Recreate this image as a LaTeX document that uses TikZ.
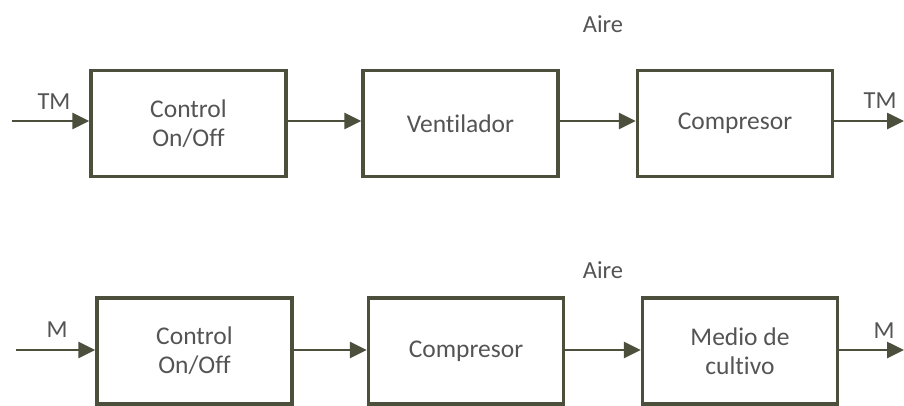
\documentclass[tikz,border=0pt]{standalone}
\usepackage{fontspec}
\setmainfont{Carlito}[Ligatures=NoCommon]
\usetikzlibrary{arrows.meta}
\definecolor{edge}{HTML}{4B4F3C}
\definecolor{txt}{HTML}{545454}
\tikzset{
  blockbox/.style={draw=edge, line width=3.4pt, minimum width=195pt, minimum height=106pt, inner sep=0pt, align=center, text=txt, font=\fontsize{25.5}{29}\selectfont},
  flow/.style={draw=edge, line width=2.6pt, -{Triangle[length=17pt,width=16pt]}},
  lbl/.style={text=txt, font=\fontsize{24.5}{28}\selectfont, inner sep=0pt}
}
\begin{document}
\begin{tikzpicture}[x=1pt,y=-1pt]
\useasboundingbox (0,0) rectangle (904,405);
% top row
\node[blockbox] (c1) at (188.5,123.5) {Control\\On/Off};
\node[blockbox] (v1) at (460.5,123.5) {Ventilador};
\node[blockbox] (p1) at (735,123.5) {Compresor};
\coordinate (in1) at (12,121);
\coordinate (out1) at (904,121);
\draw[flow] (in1) -- (c1.west |- in1);
\draw[flow] (c1.east |- in1) -- (v1.west |- in1);
\draw[flow] (v1.east |- in1) -- (p1.west |- in1);
\draw[flow] (p1.east |- in1) -- (out1);
\node[lbl] (tm1) at (54,102) {TM};
\node[lbl] (tm2) at (880,101) {TM};
\node[lbl] (a1) at (603,24) {Aire};
% bottom row
\node[blockbox] (c2) at (194.5,351) {Control\\On/Off};
\node[blockbox] (p2) at (466,351) {Compresor};
\node[blockbox] (m2) at (740,351) {Medio de\\cultivo};
\coordinate (in2) at (16,350);
\coordinate (out2) at (904,350);
\draw[flow] (in2) -- (c2.west |- in2);
\draw[flow] (c2.east |- in2) -- (p2.west |- in2);
\draw[flow] (p2.east |- in2) -- (m2.west |- in2);
\draw[flow] (m2.east |- in2) -- (out2);
\node[lbl] (mm1) at (57,330) {M};
\node[lbl] (mm2) at (884,331) {M};
\node[lbl] (a2) at (603,270) {Aire};
\end{tikzpicture}
\end{document}
